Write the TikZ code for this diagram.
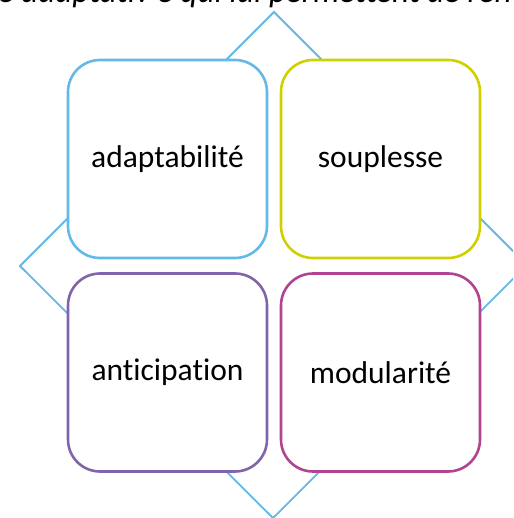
\documentclass[tikz,border=0pt]{standalone}
\usepackage{fontspec}
\setmainfont{Carlito}[Ligatures={NoCommon,NoContextual}]
\usetikzlibrary{positioning}
\definecolor{cblue}{RGB}{99,185,232}
\definecolor{cyellow}{RGB}{208,208,0}
\definecolor{cpurple}{RGB}{128,100,172}
\definecolor{cmagenta}{RGB}{178,66,146}
\begin{document}
\begin{tikzpicture}[x=1pt,y=-1pt,
  card/.style={draw, line width=2.6pt, fill=white, rounded corners=32pt,
    minimum width=199pt, minimum height=198pt, inner sep=0pt,
    font=\fontsize{31.5}{36}\selectfont},
  frame/.style={draw=cblue, line width=1.8pt}]
\useasboundingbox (0,0) rectangle (513,518);
\begin{scope}
\clip (0,0) rectangle (513,518);
% partially visible caption at the top
\node[anchor=base west, inner sep=0pt, font=\fontsize{33}{38}\selectfont\itshape] (cap) at (-2,3) {e adaptativ e qui lui permettent de ren};
% diamond behind the cards
\coordinate (dt) at (274,12);
\coordinate (dr) at (527,265);
\coordinate (db) at (273,518);
\coordinate (dl) at (20,266);
\draw[frame] (dt) -- (dr) -- (db) -- (dl) -- cycle;
\end{scope}
\node[card, draw=cblue] (a) at (167.5,159) {adaptabilité};
\node[card, draw=cyellow] (s) at (380.5,159) {souplesse};
\node[card, draw=cpurple] (p) at (167.5,372.5) {anticipation};
\node[card, draw=cmagenta] (m) at (380.5,372.5) {modularité};
\end{tikzpicture}
\end{document}
